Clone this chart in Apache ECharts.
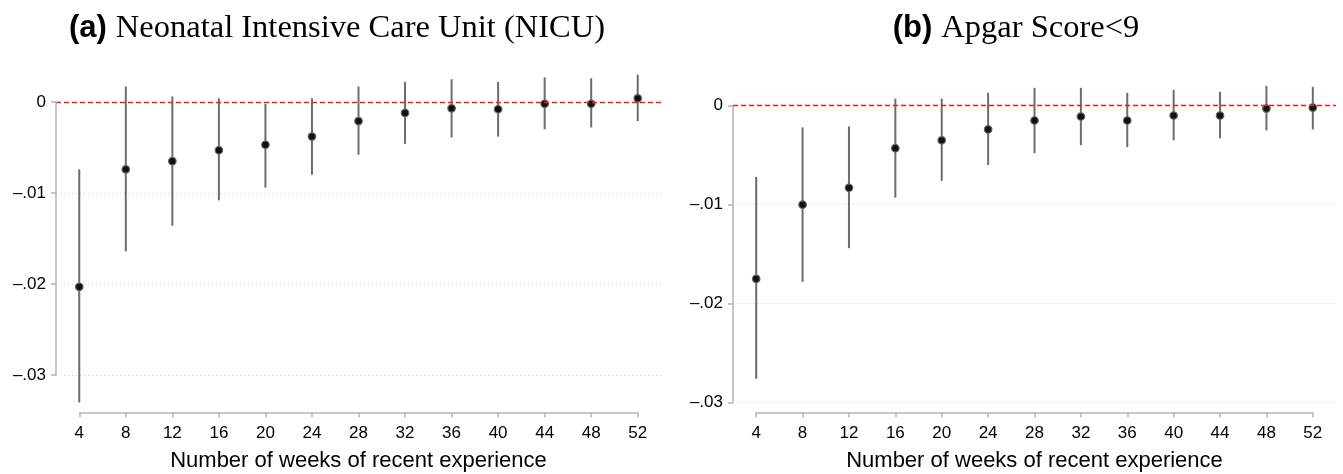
<!DOCTYPE html>
<html>
<head>
<meta charset="utf-8">
<script src="https://cdn.jsdelivr.net/npm/echarts@6/dist/echarts.min.js"></script>
<style>
  html, body { margin: 0; padding: 0; background: #fff; }
  #chart { width: 1343px; height: 474px; }
</style>
</head>
<body>
<div id="chart"></div>
<script>
// weeks of recent experience (x categories / tick labels)
const weeks = [4, 8, 12, 16, 20, 24, 28, 32, 36, 40, 44, 48, 52];
const yTicks = [0, -0.01, -0.02, -0.03];

// (a) NICU: point estimate and 95% CI
const nicuCoef = [-0.0203, -0.0074, -0.0065, -0.0053, -0.0047, -0.0038, -0.0021, -0.0012, -0.0007, -0.0008, -0.0002, -0.0002, 0.0004];
const nicuLo   = [-0.0330, -0.0164, -0.0136, -0.0108, -0.0094, -0.0080, -0.0058, -0.0046, -0.0039, -0.0038, -0.0030, -0.0028, -0.0021];
const nicuHi   = [-0.0074, 0.0017, 0.0006, 0.0004, -0.0002, 0.0004, 0.0017, 0.0022, 0.0025, 0.0022, 0.0027, 0.0026, 0.0030];

// (b) Apgar score < 9
const apgarCoef = [-0.0175, -0.0100, -0.0083, -0.0043, -0.0035, -0.0024, -0.0015, -0.0011, -0.0015, -0.0010, -0.0010, -0.0003, -0.0002];
const apgarLo   = [-0.0276, -0.0178, -0.0144, -0.0093, -0.0076, -0.0060, -0.0048, -0.0040, -0.0042, -0.0035, -0.0033, -0.0025, -0.0024];
const apgarHi   = [-0.0072, -0.0022, -0.0021, 0.0007, 0.0007, 0.0013, 0.0018, 0.0018, 0.0013, 0.0016, 0.0014, 0.0020, 0.0019];

const xTitle = 'Number of weeks of recent experience';
const AXIS_GREY = '#b4b4b4';

const chart = echarts.init(document.getElementById('chart'));

const fmtY = v => v === 0 ? '0' : (v < 0 ? '\u2013' : '') + String(Math.abs(v)).replace(/^0/, '');

function xAxisFor(idx) {
  return {
    type: 'value', gridIndex: idx, min: 2, max: 54,
    axisLine: { show: false, onZero: false },
    axisTick: { show: true, customValues: weeks, length: 5, lineStyle: { color: AXIS_GREY, width: 1.5 } },
    axisLabel: { customValues: weeks, margin: 12, fontSize: 17, color: '#000', fontFamily: 'Liberation Sans' },
    splitLine: { show: false },
    name: xTitle, nameLocation: 'middle', nameGap: 37,
    nameTextStyle: { fontSize: 22, color: '#000', fontFamily: 'Liberation Sans' }
  };
}

function yAxisFor(idx, min, max) {
  return {
    type: 'value', gridIndex: idx, min: min, max: max,
    axisLine: { show: false, onZero: false },
    axisTick: { show: true, customValues: yTicks, length: 5, lineStyle: { color: AXIS_GREY, width: 1.5 } },
    axisLabel: { customValues: yTicks, margin: 10, fontSize: 17, color: '#000', fontFamily: 'Liberation Sans', formatter: fmtY },
    splitLine: { show: true, lineStyle: { color: '#cfcfcf', width: 1, type: [1, 3] } }
  };
}

function errBars(idx, lo, hi, yMin) {
  return {
    type: 'custom', xAxisIndex: idx, yAxisIndex: idx, z: 3,
    data: weeks.map((w, i) => [w, lo[i], hi[i]]),
    encode: { x: 0, y: [1, 2] },
    renderItem: (params, api) => {
      const a = api.coord([api.value(0), api.value(1)]);
      const b = api.coord([api.value(0), api.value(2)]);
      return { type: 'line', shape: { x1: a[0], y1: a[1], x2: b[0], y2: b[1] },
               style: { stroke: '#6c6c6c', lineWidth: 2 } };
    },
    markLine: {
      silent: true, symbol: 'none', label: { show: false }, animation: false,
      data: [
        { yAxis: 0, lineStyle: { color: '#ff1a1a', width: 1.4, type: [5, 3] } },
        [{ coord: [2, yTicks[0]] }, { coord: [2, yTicks[yTicks.length - 1]] }],
        [{ coord: [weeks[0], yMin] }, { coord: [weeks[weeks.length - 1], yMin] }]
      ],
      lineStyle: { color: AXIS_GREY, width: 1.5, type: 'solid' }
    }
  };
}

function points(idx, coef) {
  return {
    type: 'scatter', xAxisIndex: idx, yAxisIndex: idx, z: 4,
    data: weeks.map((w, i) => [w, coef[i]]),
    symbolSize: 7.5,
    itemStyle: { color: '#111', borderColor: '#666', borderWidth: 1.2, opacity: 1 }
  };
}

const titleRich = {
  b: { fontFamily: 'Liberation Sans', fontWeight: 'bold', fontSize: 31, color: '#000', padding: [0, 9, 0, 0] },
  s: { fontFamily: 'Liberation Serif', fontSize: 32.5, color: '#000' }
};

const option = {
  animation: false,
  grid: [
    { left: 56, top: 71, width: 605, height: 341.5, outerBoundsMode: 'none', containLabel: false },
    { left: 733, top: 79.9, width: 603, height: 332.6, outerBoundsMode: 'none', containLabel: false }
  ],
  xAxis: [xAxisFor(0), xAxisFor(1)],
  yAxis: [yAxisFor(0, -0.0341, 0.0034), yAxisFor(1, -0.031, 0.0026)],
  graphic: [
    { type: 'text', x: 337, y: 28,
      style: { text: '{b|(a)}{s|Neonatal Intensive Care Unit (NICU)}', rich: titleRich, align: 'center', verticalAlign: 'middle' } },
    { type: 'text', x: 1016, y: 28,
      style: { text: '{b|(b)}{s|Apgar Score<9}', rich: titleRich, align: 'center', verticalAlign: 'middle' } }
  ],
  series: [
    errBars(0, nicuLo, nicuHi, -0.0341),
    points(0, nicuCoef),
    errBars(1, apgarLo, apgarHi, -0.031),
    points(1, apgarCoef)
  ]
};

chart.setOption(option);
window.addEventListener('resize', () => chart.resize());
</script>
</body>
</html>
